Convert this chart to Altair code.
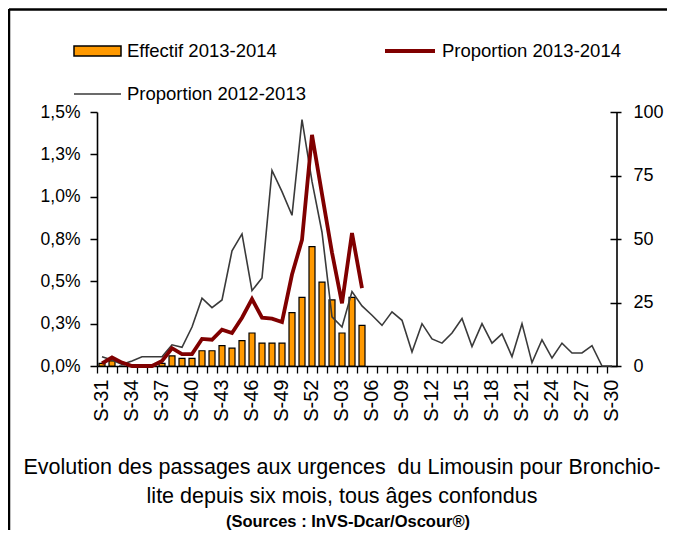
import altair as alt
import pandas as pd

weeks = ["S-31", "S-32", "S-33", "S-34", "S-35", "S-36", "S-37", "S-38", "S-39", "S-40",
         "S-41", "S-42", "S-43", "S-44", "S-45", "S-46", "S-47", "S-48", "S-49", "S-50",
         "S-51", "S-52", "S-01", "S-02", "S-03", "S-04", "S-05", "S-06", "S-07", "S-08",
         "S-09", "S-10", "S-11", "S-12", "S-13", "S-14", "S-15", "S-16", "S-17", "S-18",
         "S-19", "S-20", "S-21", "S-22", "S-23", "S-24", "S-25", "S-26", "S-27", "S-28",
         "S-29", "S-30"]
label_weeks = weeks[::3]

# proportion (%) 2012-2013, all 52 weeks
prop_2012_2013 = [0.055, 0.035, 0.01, 0.03, 0.055, 0.055, 0.055, 0.125, 0.11, 0.23,
                  0.40, 0.345, 0.39, 0.68, 0.78, 0.445, 0.52, 1.155, 1.03, 0.89,
                  1.455, 1.09, 0.79, 0.29, 0.23, 0.44, 0.355, 0.30, 0.24, 0.32,
                  0.27, 0.083, 0.25, 0.16, 0.135, 0.195, 0.28, 0.115, 0.25, 0.135,
                  0.19, 0.055, 0.25, 0.02, 0.155, 0.047, 0.135, 0.077, 0.077, 0.12,
                  0.0, 0.0]
# proportion (%) 2013-2014, S-31 .. S-05
prop_2013_2014 = [0.015, 0.05, 0.02, 0.0, 0.0, 0.0, 0.03, 0.105, 0.07, 0.07,
                  0.16, 0.155, 0.215, 0.195, 0.285, 0.395, 0.285, 0.28, 0.26, 0.54,
                  0.745, 1.365, 1.015, 0.67, 0.37, 0.785, 0.46]
# effectif 2013-2014, S-31 .. S-05
effectif_2013_2014 = [1, 2, 0, 0, 0, 0, 1, 4, 3, 3,
                      6, 6, 8, 7, 10, 13, 9, 9, 9, 21,
                      27, 47, 33, 26, 13, 27, 16]

legend_labels = ["Effectif 2013-2014", "Proportion 2013-2014", "Proportion 2012-2013"]
title_lines = ["Evolution des passages aux urgences \u00a0du Limousin pour Bronchio-",
               "lite depuis six mois, tous âges confondus",
               "(Sources : InVS-Dcar/Oscour®)"]
left_ticks = [0, 0.25, 0.5, 0.75, 1.0, 1.25, 1.5]
right_ticks = [0, 25, 50, 75, 100]

W, H = 520, 254
FONT = "Liberation Sans"
ORANGE = "#FF9900"
RED = "#800000"
GRAY = "#3a3a3a"

df_prev = pd.DataFrame({"week": weeks, "idx": list(range(len(weeks))), "prop": prop_2012_2013})
n = len(prop_2013_2014)
df_cur = pd.DataFrame({"week": weeks[:n], "idx": list(range(n)),
                       "prop": prop_2013_2014, "count": effectif_2013_2014})
one = pd.DataFrame({"a": [0]})

xscale = alt.Scale(type="band", domain=weeks, paddingInner=0, paddingOuter=0)
pscale = alt.Scale(domain=[0, 1.5], nice=False, zero=True)
cscale = alt.Scale(domain=[0, 100], nice=False, zero=True)

bars = alt.Chart(df_cur).mark_bar(width=6, color=ORANGE, stroke="black", strokeWidth=1.2).encode(
    x=alt.X("week:N", scale=xscale,
            axis=alt.Axis(orient="bottom", bandPosition=0, labels=False, tickSize=7, tickColor="black",
                          tickWidth=1.3, domain=True, domainColor="black", domainWidth=1.6,
                          title=None, grid=False)),
    y=alt.Y("count:Q", scale=cscale,
            axis=alt.Axis(orient="right", values=right_ticks, offset=-7, tickSize=11, tickColor="black",
                          tickWidth=1.5, domain=False, labelPadding=12, labelFont=FONT, labelFontSize=18,
                          labelColor="black", title=None, grid=False)),
)

gray = alt.Chart(df_prev).mark_line(color=GRAY, strokeWidth=1.6).encode(
    x=alt.X("week:N", scale=xscale,
            axis=alt.Axis(orient="bottom", values=label_weeks, labelAngle=-90, ticks=False, tickSize=0,
                          domain=False, labelPadding=13, labelFont=FONT, labelFontSize=20,
                          labelColor="black", labelOverlap=False, title=None, grid=False)),
    y=alt.Y("prop:Q", scale=pscale,
            axis=alt.Axis(orient="left", values=left_ticks,
                          labelExpr="replace(format(datum.value, '.1f'), '.', ',') + '%'",
                          tickSize=7, tickColor="black", tickWidth=1.5, domain=True, domainColor="black",
                          domainWidth=1.6, labelPadding=10, labelFont=FONT, labelFontSize=17.5,
                          labelColor="black", title=None, grid=False)),
    order="idx:Q",
)

red = alt.Chart(df_cur).mark_line(color=RED, strokeWidth=3.8).encode(
    x=alt.X("week:N", scale=xscale, axis=None),
    y=alt.Y("prop:Q", scale=pscale, axis=None),
    order="idx:Q",
)

right_domain = alt.Chart(one).mark_rule(color="black", strokeWidth=1.6).encode(
    x=alt.value(W), y=alt.value(0), y2=alt.value(H))

border_top = alt.Chart(one).mark_rule(color="black", strokeWidth=2.5).encode(
    x=alt.value(-88), x2=alt.value(W + 60), y=alt.value(-102.5))
border_left = alt.Chart(one).mark_rule(color="black", strokeWidth=2.5).encode(
    x=alt.value(-88), y=alt.value(-103), y2=alt.value(H + 170))

leg_box = alt.Chart(one).mark_rect(fill=ORANGE, stroke="black", strokeWidth=1.5).encode(
    x=alt.value(-23), x2=alt.value(24), y=alt.value(-66), y2=alt.value(-56))
leg_red = alt.Chart(one).mark_rule(color=RED, strokeWidth=3.8).encode(
    x=alt.value(288), x2=alt.value(338), y=alt.value(-61))
leg_gray = alt.Chart(one).mark_rule(color=GRAY, strokeWidth=1.6).encode(
    x=alt.value(-23), x2=alt.value(24), y=alt.value(-18))

def txt(s, x, y, size, align="left", weight="normal"):
    return alt.Chart(one).mark_text(align=align, baseline="middle", font=FONT, fontSize=size,
                                    fontWeight=weight, color="black").encode(
        x=alt.value(x), y=alt.value(y), text=alt.value(s))

leg_t1 = txt(legend_labels[0], 30, -61, 18.5)
leg_t2 = txt(legend_labels[1], 345, -61, 18.5)
leg_t3 = txt(legend_labels[2], 30, -18, 18.5)

tt1 = txt(title_lines[0], 245, 356, 21.5, align="center")
tt2 = txt(title_lines[1], 245, 385, 21.5, align="center")
tt3 = txt(title_lines[2], 251, 410, 16.5, align="center", weight="bold")

chart = alt.layer(
    bars, gray, red, right_domain, border_top, border_left,
    leg_box, leg_red, leg_gray, leg_t1, leg_t2, leg_t3, tt1, tt2, tt3,
).resolve_scale(y="independent").resolve_axis(x="independent", y="independent").properties(
    width=W, height=H,
    padding={"left": 89, "top": 104, "right": 50, "bottom": 164},
    autosize=alt.AutoSizeParams(type="none"),
    background="white",
).configure_view(stroke=None)

chart.save("out.html", embed_options={"renderer": "svg", "actions": False})
